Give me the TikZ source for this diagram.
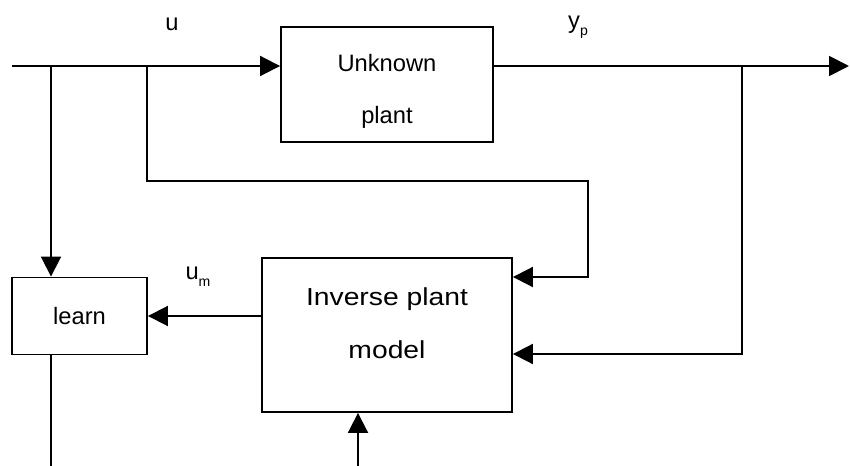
\documentclass[tikz,border=0pt]{standalone}
\usepackage{fontspec}
\setmainfont{Liberation Sans}
\newfontfamily\widefont[FakeStretch=1.15]{Liberation Sans}
\usetikzlibrary{arrows.meta, positioning}
\newcommand{\lowsub}[1]{\raisebox{-0.55ex}{\fontsize{8}{8}\selectfont #1}}
\tikzset{
  block/.style={rectangle, draw, line width=1.1pt, align=center, inner sep=0pt, font=\fontsize{13.5}{29.6}\selectfont},
  blocktext/.style={align=center, inner sep=0pt, anchor=base},
  wire/.style={line width=1.1pt},
  line/.style={wire, -{Triangle[length=4mm, width=4mm]}},
  sig/.style={inner sep=0pt, font=\fontsize{13.5}{16}\selectfont}
}

\begin{document}
\begin{tikzpicture}[x=0.02cm, y=-0.02cm]
    \useasboundingbox (0,0) rectangle (850,466);
    % blocks
    \node[block, minimum width=4.24cm, minimum height=2.3cm] (plant) at (387,84.5) {};
    \node[blocktext, font=\fontsize{13.5}{29.6}\selectfont] (planttext) at (387,124) {Unknown\\plant};
    \node[block, minimum width=5cm, minimum height=3.08cm] (inv) at (387,335) {};
    \node[blocktext, font=\widefont\fontsize{14}{30}\selectfont] (invtext) at (387,358) {Inverse plant\\model};
    \node[block, minimum width=2.7cm, minimum height=1.54cm] (learn) at (79.5,316) {learn};
    % signal names
    \node[sig] (lu) at (172,24) {u};
    \node[sig] (ly) at (578,27) {y\lowsub{p}};
    \node[sig] (lum) at (198,277) {u\lowsub{m}};
    % end and branch points
    \coordinate (in) at (12,66);
    \coordinate (out) at (849,66);
    \coordinate (b1) at (51,66);
    \coordinate (b2) at (147,66);
    \coordinate (b3) at (742,66);
    \coordinate (c1) at (588,181);
    \coordinate (t1) at (588,277);
    \coordinate (t2) at (742,354);
    \coordinate (e1) at (51,466);
    \coordinate (e2) at (358,466);
    % connectors
    \draw[line] (in) -- (in -| plant.west);
    \draw[line] (plant.east |- out) -- (out);
    \draw[line] (b1) -- (b1 |- learn.north);
    \draw[line] (b2) |- (c1) -- (t1) -- (t1 -| inv.east);
    \draw[line] (b3) -- (t2) -- (t2 -| inv.east);
    \draw[line] (inv.west |- learn) -- (learn.east);
    \draw[wire] (e1 |- learn.south) -- (e1);
    \draw[line] (e2) -- (e2 |- inv.south);
\end{tikzpicture}
\end{document}
